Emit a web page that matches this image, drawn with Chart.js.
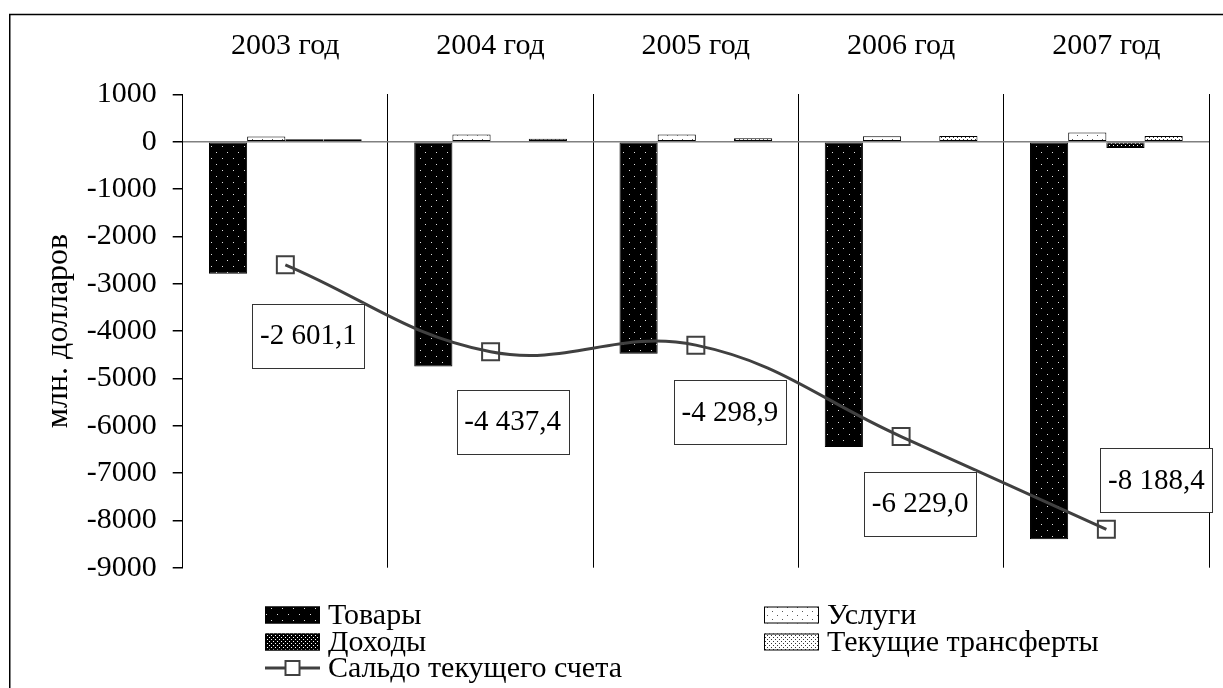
<!DOCTYPE html>
<html><head><meta charset="utf-8">
<script src="https://cdn.jsdelivr.net/npm/chart.js@4/dist/chart.umd.min.js"></script>
<style>html,body{margin:0;padding:0;background:#fff;overflow:hidden}#wrap{width:1223px;height:688px;position:relative}</style>
</head><body><div id="wrap"><canvas id="c"></canvas></div>
<script>
// ---- data ----
const categories = ['2003 год', '2004 год', '2005 год', '2006 год', '2007 год'];
const goods = [-2790, -4750, -4480, -6450, -8400];
const services = [110, 150, 150, 115, 195];
const income = [50, 0, 0, 0, -135];
const transfers = [50, 60, 70, 120, 120];
const balance = [-2601.1, -4437.4, -4298.9, -6229.0, -8188.4];
const seriesNames = ['Товары', 'Услуги', 'Доходы', 'Текущие трансферты', 'Сальдо текущего счета'];
const yTickValues = [1000, 0, -1000, -2000, -3000, -4000, -5000, -6000, -7000, -8000, -9000];
const yTitle = 'млн. долларов';

// ---- styles ----
const FONT = 'Liberation Serif, Times New Roman, serif';
const FS = 30;
const LFS = 29;
const labelDx = [23, 22, 34, 19, 50];
const labelDy = [71, 70, 67, 67, -49];

function makePattern(w, h, bg, fg, dots, r) {
  const c = document.createElement('canvas');
  c.width = w; c.height = h;
  const x = c.getContext('2d');
  x.fillStyle = bg; x.fillRect(0, 0, w, h);
  x.fillStyle = fg;
  dots.forEach(d => x.fillRect(d[0], d[1], r, r));
  return x.createPattern(c, 'repeat');
}
const patGoods = makePattern(11, 12, '#000', '#e0e0e0', [[2, 2], [7, 8]], 1);
const patServices = makePattern(10, 8, '#fff', '#555', [[2, 3], [7, 7]], 1);
const patIncome = makePattern(4, 4, '#000', '#fff', [[1, 1], [3, 3]], 1);
const patTransfers = makePattern(4, 4, '#fff', '#333', [[1, 1], [3, 3]], 1);

function fmt(v) {
  const p = Math.abs(v).toFixed(1).split('.');
  return (v < 0 ? '-' : '') + p[0].replace(/\B(?=(\d{3})+(?!\d))/g, ' ') + ',' + p[1];
}

const framePlugin = {
  id: 'frame',
  beforeDraw(chart) {
    const ctx = chart.ctx;
    ctx.save();
    ctx.fillStyle = '#fff';
    ctx.fillRect(0, 0, chart.width, chart.height);
    ctx.strokeStyle = '#000';
    ctx.lineWidth = 1.5;
    ctx.strokeRect(9.75, 14.5, 1400, 1000);
    ctx.restore();
  }
};

const labelPlugin = {
  id: 'boxLabels',
  afterDatasetsDraw(chart) {
    const ctx = chart.ctx;
    const idx = chart.data.datasets.findIndex(d => d.type === 'line');
    const meta = chart.getDatasetMeta(idx);
    const ds = chart.data.datasets[idx];
    ctx.save();
    ctx.font = LFS + 'px ' + FONT;
    ctx.textAlign = 'center';
    ctx.textBaseline = 'middle';
    meta.data.forEach((pt, i) => {
      const cx = pt.x + labelDx[i], cy = pt.y + labelDy[i];
      const w = 112, h = 64;
      ctx.fillStyle = '#fff';
      ctx.fillRect(cx - w / 2, cy - h / 2, w, h);
      ctx.strokeStyle = '#333';
      ctx.lineWidth = 1;
      ctx.strokeRect(Math.round(cx - w / 2) + 0.5, Math.round(cy - h / 2) + 0.5, w, h);
      ctx.fillStyle = '#000';
      ctx.fillText(fmt(ds.data[i]), cx, cy + 1);
    });
    ctx.restore();
  }
};

const legendPlugin = {
  id: 'customLegend',
  afterDraw(chart) {
    const ctx = chart.ctx;
    const cols = [265, 764];
    const rows = [615, 642, 668];
    const pos = [[0, 0], [1, 0], [0, 1], [1, 1], [0, 2]];
    ctx.save();
    ctx.font = FS + 'px ' + FONT;
    ctx.textBaseline = 'middle';
    ctx.textAlign = 'left';
    chart.data.datasets.forEach((ds, i) => {
      const x = cols[pos[i][0]], y = rows[pos[i][1]];
      if (ds.type === 'line') {
        ctx.strokeStyle = ds.borderColor;
        ctx.lineWidth = 3;
        ctx.beginPath(); ctx.moveTo(x, y); ctx.lineTo(x + 55, y); ctx.stroke();
        ctx.fillStyle = '#fff';
        ctx.fillRect(x + 20.5, y - 7, 14, 14);
        ctx.lineWidth = 2;
        ctx.strokeRect(x + 20.5, y - 7, 14, 14);
      } else {
        ctx.fillStyle = ds.backgroundColor;
        ctx.fillRect(x, y - 8.5, 55, 17);
        ctx.strokeStyle = '#000';
        ctx.lineWidth = 1;
        ctx.strokeRect(x + 0.5, y - 8, 54, 16);
      }
      ctx.fillStyle = '#000';
      ctx.fillText(ds.label, x + 63, y + 1);
    });
    ctx.restore();
  }
};

const barCommon = { type: 'bar', borderColor: '#000', borderWidth: 1, borderSkipped: false,
  barPercentage: 1, categoryPercentage: 0.744, order: 1 };

new Chart(document.getElementById('c'), {
  data: {
    labels: categories,
    datasets: [
      Object.assign({}, barCommon, { label: seriesNames[0], data: goods, backgroundColor: patGoods }),
      Object.assign({}, barCommon, { label: seriesNames[1], data: services, backgroundColor: patServices }),
      Object.assign({}, barCommon, { label: seriesNames[2], data: income, backgroundColor: patIncome }),
      Object.assign({}, barCommon, { label: seriesNames[3], data: transfers, backgroundColor: patTransfers }),
      { type: 'line', label: seriesNames[4], data: balance, borderColor: '#404040', borderWidth: 3,
        tension: 0.4, pointStyle: 'rect', pointRadius: 12, pointBackgroundColor: 'transparent',
        pointBorderColor: '#404040', pointBorderWidth: 2, order: 0 }
    ]
  },
  options: {
    responsive: true, maintainAspectRatio: false, animation: false,
    devicePixelRatio: 1,
    layout: { padding: { top: 15, right: 9, bottom: 120.3, left: 39 } },
    plugins: { legend: { display: false }, tooltip: { enabled: false } },
    scales: {
      x: {
        position: 'top', offset: true,
        grid: { offset: true, color: '#000', lineWidth: 1, drawTicks: false },
        border: { display: false },
        ticks: { font: { family: FONT, size: FS }, color: '#000', padding: 30, maxRotation: 0 },
        afterFit(s) { s.height = 79.3; }
      },
      y: {
        min: -9000, max: 1000,
        afterBuildTicks(s) { s.ticks = yTickValues.map(v => ({ value: v })); },
        ticks: { font: { family: FONT, size: FS }, color: '#000', padding: 16, callback: v => String(v) },
        grid: { color: c => (c.tick && c.tick.value === 0) ? '#808080' : 'rgba(0,0,0,0)',
                tickColor: '#000', tickLength: 10, lineWidth: 1.5 },
        border: { display: true, color: '#000', width: 1 },
        title: { display: true, text: yTitle, font: { family: FONT, size: 32 }, color: '#000', padding: { top: 0, bottom: 0 } },
        afterFit(s) { s.width = 143.7; }
      }
    }
  },
  plugins: [framePlugin, labelPlugin, legendPlugin]
});
</script>
</body></html>
